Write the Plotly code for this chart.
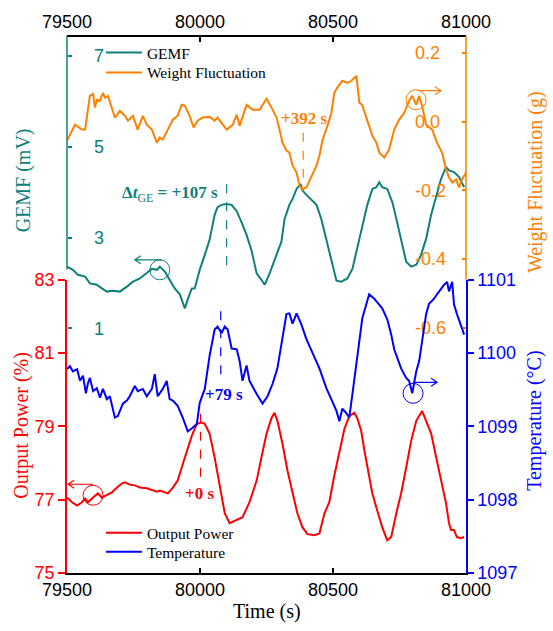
import plotly.graph_objects as go

# ---------------- data ----------------
x_ticks = [79500, 80000, 80500, 81000]

gemf_t = [79500, 79522, 79541, 79568, 79586, 79612, 79631, 79650, 79672, 79699,
          79725, 79748, 79774, 79800, 79819, 79838, 79849, 79868, 79886, 79905,
          79924, 79943, 79954, 79969, 79980, 79999, 80018, 80036, 80055, 80066,
          80081, 80100, 80119, 80138, 80156, 80175, 80194, 80213, 80231, 80243,
          80261, 80288, 80306, 80318, 80336, 80348, 80363, 80378, 80385, 80400,
          80419, 80438, 80456, 80475, 80494, 80513, 80531, 80554, 80573, 80591,
          80610, 80629, 80648, 80663, 80674, 80685, 80704, 80723, 80741, 80760,
          80775, 80794, 80813, 80831, 80850, 80869, 80888, 80906, 80925, 80936,
          80955, 80974, 80993]
gemf_v = [2.36, 2.29, 2.18, 2.14, 1.99, 1.96, 1.88, 1.81, 1.83, 1.81,
          1.92, 2.03, 2.10, 2.21, 2.31, 2.29, 2.36, 2.25, 2.07, 1.88,
          1.75, 1.44, 1.64, 1.88, 1.88, 2.29, 2.62, 2.95, 3.50, 3.67,
          3.72, 3.74, 3.72, 3.58, 3.34, 3.06, 2.71, 2.21, 2.07, 1.96,
          2.20, 2.62, 2.91, 3.41, 3.72, 3.85, 4.07, 4.18, 4.04, 3.94,
          3.83, 3.72, 3.41, 2.97, 2.47, 2.05, 2.03, 2.10, 2.31, 2.75,
          3.19, 3.72, 4.07, 4.11, 4.22, 4.11, 4.07, 3.78, 3.34, 2.86,
          2.47, 2.36, 2.40, 2.62, 2.97, 3.50, 3.94, 4.29, 4.55, 4.48,
          4.44, 4.33, 4.11]

wf_t = [79500, 79530, 79556, 79568, 79586, 79598, 79605, 79612, 79624, 79635,
        79643, 79654, 79680, 79699, 79718, 79729, 79748, 79766, 79785, 79800,
        79819, 79838, 79849, 79860, 79879, 79898, 79916, 79931, 79943, 79961,
        79976, 79991, 80010, 80036, 80055, 80066, 80100, 80123, 80138, 80149,
        80175, 80198, 80224, 80250, 80269, 80288, 80299, 80310, 80325, 80336,
        80348, 80363, 80374, 80385, 80400, 80419, 80438, 80449, 80460, 80479,
        80494, 80505, 80516, 80535, 80554, 80569, 80588, 80599, 80610, 80629,
        80648, 80663, 80674, 80693, 80711, 80730, 80749, 80768, 80786, 80798,
        80813, 80824, 80835, 80850, 80861, 80873, 80891, 80910, 80925, 80936,
        80948, 80963, 80974, 80985, 81000]
wf_v = [-0.055, -0.009, -0.023, -0.023, 0.075, 0.081, 0.041, 0.064, 0.061, 0.084,
        0.070, 0.075, 0.012, 0.032, 0.017, 0.003, 0.017, -0.023, 0.017, -0.009,
        -0.023, -0.061, -0.046, -0.052, -0.023, 0.006, 0.017, 0.049, 0.046, 0.017,
        -0.017, 0.003, 0.012, 0.014, 0.003, 0.012, -0.023, -0.009, 0.020, -0.012,
        0.049, 0.035, 0.035, 0.067, 0.041, 0.012, -0.023, -0.061, -0.084, -0.090,
        -0.128, -0.148, -0.186, -0.197, -0.191, -0.157, -0.128, -0.099, -0.055, -0.012,
        0.026, 0.084, 0.099, 0.119, 0.113, 0.119, 0.133, 0.055, 0.049, 0.003,
        -0.041, -0.061, -0.090, -0.104, -0.081, -0.023, 0.006, 0.026, 0.061, 0.075,
        0.049, 0.075, 0.046, -0.009, -0.017, -0.023, -0.061, -0.090, -0.139, -0.162,
        -0.177, -0.168, -0.191, -0.168, -0.148]

pw_t = [79500, 79519, 79538, 79556, 79568, 79579, 79598, 79616, 79631, 79650,
        79669, 79688, 79706, 79718, 79736, 79755, 79774, 79800, 79823, 79838,
        79849, 79868, 79879, 79898, 79916, 79931, 79950, 79969, 79988, 80006,
        80018, 80036, 80055, 80074, 80093, 80111, 80138, 80160, 80186, 80213,
        80231, 80250, 80269, 80280, 80291, 80310, 80329, 80348, 80366, 80385,
        80404, 80430, 80449, 80468, 80486, 80505, 80524, 80543, 80561, 80580,
        80591, 80606, 80618, 80636, 80648, 80666, 80685, 80704, 80719, 80738,
        80756, 80775, 80794, 80813, 80835, 80850, 80869, 80888, 80906, 80925,
        80936, 80944, 80955, 80966, 80981, 80993]
pw_v = [77.06, 76.93, 76.84, 76.93, 77.03, 76.93, 77.06, 77.17, 77.06, 77.12,
        77.20, 77.33, 77.44, 77.47, 77.41, 77.39, 77.33, 77.31, 77.25, 77.22,
        77.25, 77.20, 77.17, 77.33, 77.52, 77.87, 78.34, 78.74, 79.07, 79.10,
        79.07, 78.80, 78.15, 77.33, 76.63, 76.36, 76.44, 76.52, 76.93, 77.52,
        78.15, 78.80, 79.23, 79.37, 79.15, 78.53, 77.79, 77.17, 76.63, 76.25,
        76.06, 76.03, 76.08, 76.63, 76.93, 77.66, 78.34, 78.93, 79.28, 79.37,
        79.23, 78.88, 78.34, 77.60, 77.17, 76.71, 76.25, 75.89, 75.98, 76.63,
        77.17, 77.87, 78.61, 79.15, 79.42, 79.15, 78.80, 78.15, 77.52, 76.90,
        76.36, 76.17, 76.17, 75.98, 75.95, 75.98]

tp_t = [79500, 79511, 79522, 79538, 79549, 79560, 79571, 79579, 79586, 79598,
        79612, 79624, 79635, 79650, 79661, 79680, 79691, 79710, 79725, 79736,
        79755, 79766, 79785, 79800, 79819, 79830, 79841, 79860, 79875, 79886,
        79898, 79916, 79935, 79954, 79972, 79988, 79999, 80018, 80036, 80055,
        80066, 80081, 80093, 80104, 80119, 80138, 80149, 80160, 80175, 80186,
        80213, 80235, 80254, 80273, 80291, 80310, 80325, 80336, 80348, 80363,
        80381, 80400, 80423, 80449, 80475, 80494, 80513, 80524, 80535, 80550,
        80561, 80573, 80588, 80599, 80610, 80625, 80636, 80655, 80674, 80685,
        80704, 80719, 80730, 80741, 80756, 80775, 80786, 80798, 80813, 80824,
        80835, 80850, 80861, 80880, 80891, 80906, 80918, 80929, 80936, 80948,
        80955, 80966, 80981, 80993]
tp_v = [1099.78, 1099.82, 1099.75, 1099.78, 1099.62, 1099.69, 1099.45, 1099.59, 1099.66, 1099.48,
        1099.52, 1099.39, 1099.51, 1099.37, 1099.41, 1099.12, 1099.14, 1099.31, 1099.35, 1099.41,
        1099.55, 1099.48, 1099.51, 1099.41, 1099.51, 1099.71, 1099.41, 1099.51, 1099.62, 1099.37,
        1099.35, 1099.28, 1099.12, 1098.93, 1098.98, 1099.03, 1099.32, 1099.51, 1099.96, 1100.32,
        1100.36, 1100.27, 1100.36, 1100.32, 1100.06, 1100.05, 1099.89, 1099.62, 1099.83, 1099.62,
        1099.44, 1099.31, 1099.41, 1099.58, 1099.79, 1100.19, 1100.53, 1100.54, 1100.40, 1100.54,
        1100.39, 1100.19, 1100.00, 1099.79, 1099.52, 1099.37, 1099.21, 1099.07, 1099.24, 1099.18,
        1099.12, 1099.44, 1099.89, 1100.20, 1100.47, 1100.66, 1100.80, 1100.74, 1100.66, 1100.61,
        1100.46, 1100.25, 1100.05, 1099.93, 1099.79, 1099.66, 1099.62, 1099.45, 1099.75, 1099.89,
        1100.16, 1100.53, 1100.67, 1100.74, 1100.80, 1100.88, 1100.93, 1100.97, 1100.84, 1100.97,
        1100.66, 1100.53, 1100.36, 1100.25]

gemf_ticks = [1, 3, 5, 7]
wf_ticks = [-0.6, -0.4, -0.2, 0.0, 0.2]
wf_ticklabels = ["-0.6", "-0.4", "-0.2", "0.0", "0.2"]
pw_ticks = [75, 77, 79, 81, 83]
tp_ticks = [1097, 1098, 1099, 1100, 1101]

assert len(gemf_t) == len(gemf_v)
assert len(wf_t) == len(wf_v)
assert len(pw_t) == len(pw_v)
assert len(tp_t) == len(tp_v)

# ---------------- style ----------------
TEAL = "#0f8079"
ORANGE = "#ff8000"
RED = "#ff0000"
BLUE = "#0000ff"
SANS = "Liberation Sans, Arial, sans-serif"
SERIF = "Liberation Serif, Times New Roman, serif"


def tfont(c):
    return dict(family=SANS, size=18, color=c)


fig = go.Figure()
fig.add_trace(go.Scatter(x=gemf_t, y=gemf_v, name="GEMF", mode="lines",
                         line=dict(color=TEAL, width=2), xaxis="x", yaxis="y",
                         legend="legend"))
fig.add_trace(go.Scatter(x=wf_t, y=wf_v, name="Weight Fluctuation", mode="lines",
                         line=dict(color=ORANGE, width=2), xaxis="x", yaxis="y2",
                         legend="legend2"))
fig.add_trace(go.Scatter(x=pw_t, y=pw_v, name="Output Power", mode="lines",
                         line=dict(color=RED, width=2), xaxis="x", yaxis="y3",
                         legend="legend3"))
fig.add_trace(go.Scatter(x=tp_t, y=tp_v, name="Temperature", mode="lines",
                         line=dict(color=BLUE, width=2), xaxis="x", yaxis="y4",
                         legend="legend4"))
fig.add_trace(go.Scatter(x=[x_ticks[0], x_ticks[-1]], y=[None, None], xaxis="x2",
                         yaxis="y", showlegend=False, hoverinfo="skip", mode="lines"))

xr = [x_ticks[0], x_ticks[-1]]
common_x = dict(range=xr, tickvals=x_ticks, tickformat="d", ticks="inside", ticklen=5,
                tickwidth=1.5, tickcolor="black", showline=True, linecolor="black",
                linewidth=1.5, showgrid=False, zeroline=False, tickfont=tfont("black"))

PW_TOP = 0.5463


def leg(y):
    return dict(x=0.085, y=y, xanchor="left", yanchor="top",
                bgcolor="rgba(0,0,0,0)",
                font=dict(family=SERIF, size=15.5, color="black"),
                itemwidth=36)


fig.update_layout(
    width=553, height=631,
    margin=dict(l=67, r=87, t=33, b=58),
    paper_bgcolor="white", plot_bgcolor="rgba(0,0,0,0)",
    showlegend=True,
    xaxis=dict(anchor="y3", **common_x),
    xaxis2=dict(anchor="free", position=1, overlaying="x", side="top", **common_x),
    yaxis=dict(domain=[0, 1], range=[-4.386, 7.438], tickvals=gemf_ticks, ticks="inside",
               ticklen=4, tickwidth=1.5, tickcolor=TEAL,
               ticklabelstandoff=-37, showline=False, showgrid=False, zeroline=False,
               tickfont=tfont(TEAL), anchor="free", position=0),
    yaxis2=dict(range=[-1.313, 0.2493], overlaying="y", side="right", anchor="free",
                position=1,
                tickvals=wf_ticks, ticktext=wf_ticklabels, ticks="inside", ticklen=4,
                tickwidth=1.5, tickcolor=ORANGE,
                ticklabelstandoff=-52, showline=False, showgrid=False, zeroline=False,
                tickfont=tfont(ORANGE)),
    yaxis3=dict(domain=[0, PW_TOP], range=[75, 83], tickvals=pw_ticks, ticks="outside",
                ticklen=7, tickwidth=1.5, tickcolor=RED, showline=True, linecolor=RED,
                linewidth=1.5, showgrid=False, zeroline=False, tickfont=tfont(RED),
                anchor="x"),
    yaxis4=dict(range=[1097, 1101], overlaying="y3", side="right", anchor="x",
                tickvals=tp_ticks, tickformat="d", ticks="outside", ticklen=6,
                tickwidth=1.5, tickcolor=BLUE, showline=True, linecolor=BLUE,
                linewidth=1.5, showgrid=False, zeroline=False, tickfont=tfont(BLUE)),
    legend=leg(1.0),
    legend2=leg(0.963),
    legend3=leg(0.1056),
    legend4=leg(0.0704),
)

# axis lines for GEMF (teal) and weight (orange) in the upper part
shapes = [
    dict(type="line", xref="paper", yref="paper", x0=0, x1=0, y0=0.565, y1=1,
         line=dict(color=TEAL, width=1.5)),
    dict(type="line", xref="paper", yref="paper", x0=1, x1=1, y0=PW_TOP, y1=1,
         line=dict(color=ORANGE, width=1.5)),
    # dashed markers
    dict(type="line", xref="x", yref="y2", x0=80388, x1=80388, y0=-0.032, y1=-0.186,
         line=dict(color=ORANGE, width=1.2, dash="dash")),
    dict(type="line", xref="x", yref="y", x0=80100, x1=80100, y0=4.175, y1=2.205,
         line=dict(color=TEAL, width=1.2, dash="dash")),
    dict(type="line", xref="x", yref="y4", x0=80078, x1=80078, y0=1100.57, y1=1099.64,
         line=dict(color=BLUE, width=1.2, dash="dash")),
    dict(type="line", xref="x", yref="y3", x0=80002, x1=80002, y0=79.34, y1=77.47,
         line=dict(color=RED, width=1.2, dash="dash")),
]


def circle_arrow(xa, ya, yref, color, path):
    return [
        dict(type="circle", xref="x", yref=yref, xsizemode="pixel", ysizemode="pixel",
             xanchor=xa, yanchor=ya, x0=-10, x1=10, y0=-10, y1=10,
             line=dict(color=color, width=1)),
        dict(type="path", xref="x", yref=yref, xsizemode="pixel", ysizemode="pixel",
             xanchor=xa, yanchor=ya, path=path, line=dict(color=color, width=1.2)),
    ]


shapes += circle_arrow(79849, 2.29, "y", TEAL, "M 2 10 L -25 10 M -19 14 L -25 10 L -19 6")
shapes += circle_arrow(80812, 0.064, "y2", ORANGE, "M 1 9 L 25 9 M 19 13 L 25 9 L 19 5")
shapes += circle_arrow(80801, 1099.45, "y4", BLUE, "M 0 11 L 24 11 M 18 15 L 24 11 L 18 7")
shapes += circle_arrow(79598, 77.12, "y3", RED, "M 0 11 L -25 11 M -19 15 L -25 11 L -19 7")
fig.update_layout(shapes=shapes)

ann = []


def title(text, x, y, color, angle):
    ann.append(dict(text=text, x=x, y=y, xref="paper", yref="paper", showarrow=False,
                    textangle=angle, xanchor="center", yanchor="middle",
                    font=dict(family=SERIF, size=20, color=color)))


title("GEMF (mV)", -0.108, 0.731, TEAL, -90)
title("Output Power (%)", -0.113, 0.276, RED, -90)
title("Weight Fluctuation (g)", 1.173, 0.728, ORANGE, -90)
title("Temperature (°C)", 1.170, 0.283, BLUE, -90)
title("Time (s)", 0.5, -0.072, "black", 0)


def label(text, x, y, yref, color):
    ann.append(dict(text=text, x=x, y=y, xref="x", yref=yref, showarrow=False,
                    xanchor="center", yanchor="middle",
                    font=dict(family=SERIF, size=17, color=color)))


label("<b>+392 s</b>", 80392, 0.008, "y2", ORANGE)
label("<b>Δ<i>t</i></b><sub>GE</sub><b> = +107 s</b>", 79886, 3.956, "y", TEAL)
label("<b>+79 s</b>", 80089, 1099.43, "y4", BLUE)
label("<b>+0 s</b>", 79999, 77.17, "y3", RED)

fig.update_layout(annotations=ann)

fig.write_html("out.html")
